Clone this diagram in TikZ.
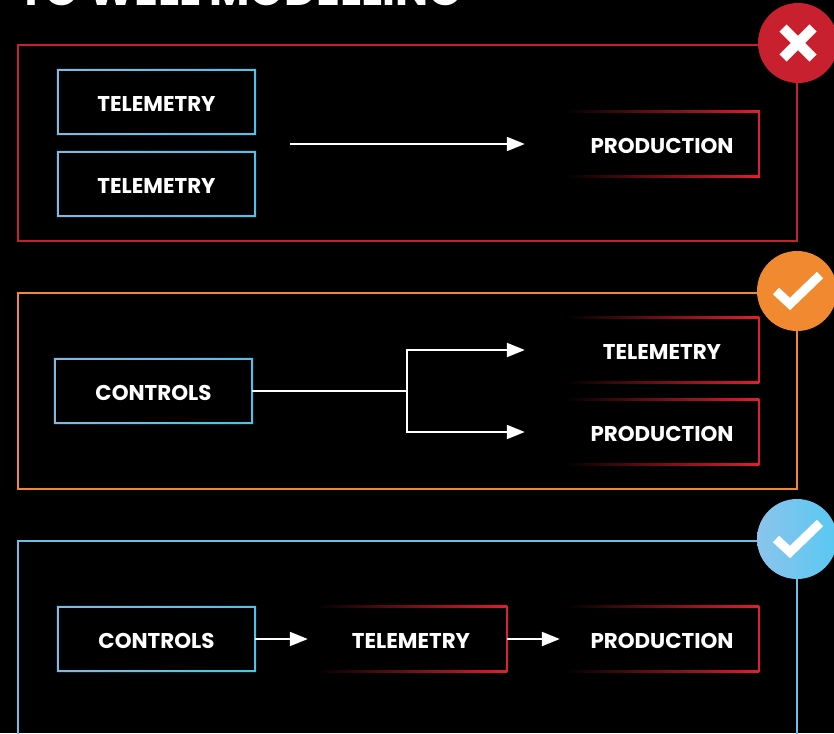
\documentclass[tikz,border=0pt]{standalone}
\usepackage{fontspec}
\setmainfont{Poppins}
\usetikzlibrary{arrows.meta}
\definecolor{framered}{RGB}{200,32,46}
\definecolor{boxred}{RGB}{228,30,45}
\definecolor{frameorange}{RGB}{240,137,48}
\definecolor{frameblue}{RGB}{110,190,232}
\definecolor{bluel}{RGB}{130,185,228}
\definecolor{bluer}{RGB}{78,194,238}
\definecolor{iconbl}{RGB}{140,196,236}
\definecolor{iconbr}{RGB}{88,200,242}
\newcommand\blueframe[1]{%
  \shade[left color=bluel,right color=bluer,even odd rule]
    ([xshift=-1pt,yshift=1pt]#1.north west) rectangle ([xshift=1pt,yshift=-1pt]#1.south east)
    ([xshift=1pt,yshift=-1pt]#1.north west) rectangle ([xshift=-1pt,yshift=1pt]#1.south east);}
\newcommand\redframe[1]{%
  \shade[left color=black,right color=boxred]
    ([yshift=1pt]#1.north west) rectangle ([yshift=-1pt]#1.north east);
  \shade[left color=black,right color=boxred]
    ([yshift=1pt]#1.south west) rectangle ([yshift=-1pt]#1.south east);
  \fill[boxred] ([xshift=-1pt,yshift=1pt]#1.north east) rectangle ([xshift=1pt,yshift=-1pt]#1.south east);}
\begin{document}
\begin{tikzpicture}[x=1pt,y=-1pt,
  lbl/.style={inner sep=0pt, minimum height=64pt, text=white,
    text height=18pt, text depth=0pt,
    font=\fontsize{21.4}{21.4}\selectfont\bfseries},
  bigframe/.style={line width=2pt},
  conn/.style={white, line width=2pt, line join=miter},
  arr/.style={conn, -{Triangle[length=18pt,width=14pt]}},
  icon/.style={circle, minimum size=80pt, inner sep=0pt},
  tickmark/.style={white, line width=9pt, line join=miter},
  crossmark/.style={white, line width=10pt}]
\fill[black] (0,0) rectangle (834,733);
\useasboundingbox (0,0) rectangle (834,733);
\clip (0,0) rectangle (834,733);
% title (cut off)
\node[anchor=base west, text=white, inner sep=0pt,
  font=\fontsize{44}{44}\selectfont\bfseries] (title) at (18,6) {TO WELL MODELLING};
% frames
\draw[bigframe, framered] (18,45) rectangle (797,241);
\draw[bigframe, frameorange] (18,293) rectangle (797,489);
\draw[bigframe, frameblue] (797,760) -- (797,541) -- (18,541) -- (18,760);
% section 1
\node[lbl, minimum width=197pt] (t1a) at (156.5,102) {TELEMETRY};
\node[lbl, minimum width=197pt] (t1b) at (156.5,184) {TELEMETRY};
\node[lbl, minimum width=194pt, minimum height=65pt] (p1) at (662,144) {PRODUCTION};
\blueframe{t1a}\blueframe{t1b}\redframe{p1}
\coordinate (s1) at (290,144);
\draw[arr] (s1) -- ([xshift=-40pt]p1.west);
% section 2
\node[lbl, minimum width=197pt] (c2) at (153.5,391) {CONTROLS};
\node[lbl, minimum width=194pt] (t2) at (662,350) {TELEMETRY};
\node[lbl, minimum width=194pt] (p2) at (662,432) {PRODUCTION};
\blueframe{c2}\redframe{t2}\redframe{p2}
\coordinate (br) at (407,391);
\draw[conn] (c2.east) -- (br);
\draw[arr] (br) -- (br |- t2.west) -- ([xshift=-40pt]t2.west);
\draw[arr] (br) -- (br |- p2.west) -- ([xshift=-40pt]p2.west);
% section 3
\node[lbl, minimum width=197pt] (c3) at (156.5,639) {CONTROLS};
\node[lbl, minimum width=192pt] (t3) at (411,639) {TELEMETRY};
\node[lbl, minimum width=194pt] (p3) at (662,639) {PRODUCTION};
\blueframe{c3}\redframe{t3}\redframe{p3}
\draw[arr] (c3.east) -- ([xshift=-7pt]t3.west);
\draw[arr] (t3.east) -- ([xshift=-5pt]p3.west);
% icons
\node[icon, fill=framered] (i1) at (798,43) {};
\draw[crossmark] ([shift={(-15,-15)}]i1.center) -- ([shift={(15,15)}]i1.center);
\draw[crossmark] ([shift={(-15,15)}]i1.center) -- ([shift={(15,-15)}]i1.center);
\node[icon, fill=frameorange] (i2) at (797,291) {};
\draw[tickmark] ([shift={(-21,0)}]i2.center) -- ([shift={(-7,13)}]i2.center) -- ([shift={(23,-16)}]i2.center);
\node[icon, left color=iconbl, right color=iconbr] (i3) at (797,539) {};
\draw[tickmark] ([shift={(-21,0)}]i3.center) -- ([shift={(-7,13)}]i3.center) -- ([shift={(23,-16)}]i3.center);
\end{tikzpicture}
\end{document}
